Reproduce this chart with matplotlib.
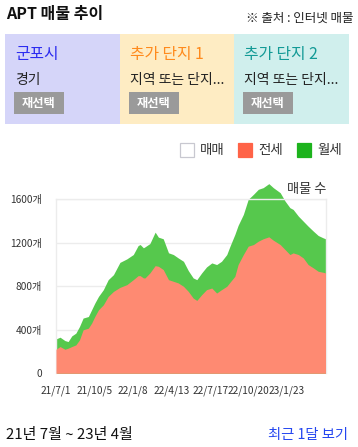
import matplotlib
matplotlib.use("Agg")
import matplotlib.pyplot as plt
from matplotlib.patches import Rectangle
import numpy as np
import pandas as pd

plt.rcParams['font.family'] = ['Noto Sans CJK KR', 'DejaVu Sans']

# ---- data ----
dates = ["2021-07-01", "2021-07-11", "2021-07-23", "2021-07-31", "2021-08-09", "2021-08-19",
         "2021-08-28", "2021-09-06", "2021-09-19", "2021-09-27", "2021-10-05", "2021-10-14",
         "2021-10-26", "2021-11-07", "2021-11-20", "2021-12-06", "2021-12-23", "2022-01-08",
         "2022-01-20", "2022-01-25", "2022-02-02", "2022-02-06", "2022-02-18", "2022-03-03",
         "2022-03-11", "2022-03-23", "2022-04-05", "2022-04-17", "2022-04-29", "2022-05-12",
         "2022-05-24", "2022-06-05", "2022-06-14", "2022-06-26", "2022-07-08", "2022-07-21",
         "2022-08-02", "2022-08-14", "2022-08-27", "2022-09-04", "2022-09-16", "2022-09-24",
         "2022-10-07", "2022-10-19", "2022-11-01", "2022-11-13", "2022-11-25", "2022-12-09",
         "2022-12-20", "2023-01-06", "2023-01-18", "2023-01-30", "2023-02-07", "2023-02-20",
         "2023-03-04", "2023-03-16", "2023-03-29", "2023-04-10", "2023-04-22", "2023-04-28"]
jeonse = [221, 246, 221, 231, 246, 261, 307, 400, 415, 461, 523, 584, 630, 707, 753, 790,
          815, 861, 898, 898, 877, 877, 923, 990, 984, 954, 861, 846, 831, 800, 753, 692,
          670, 723, 769, 784, 738, 769, 800, 837, 892, 1000, 1092, 1169, 1184, 1215, 1237,
          1255, 1224, 1184, 1138, 1092, 1107, 1092, 1061, 1000, 969, 938, 929, 923]
total = [316, 332, 301, 292, 344, 369, 430, 508, 522, 584, 646, 707, 769, 861, 907, 1020,
         1052, 1092, 1175, 1184, 1154, 1163, 1193, 1298, 1252, 1237, 1108, 1092, 1061, 1030,
         944, 877, 861, 923, 978, 1015, 1000, 1030, 1092, 1169, 1277, 1360, 1461, 1600, 1646,
         1692, 1707, 1744, 1707, 1661, 1584, 1523, 1507, 1445, 1399, 1353, 1307, 1267, 1246, 1237]
wolse = [t - j for t, j in zip(total, jeonse)]
yticks = [0, 400, 800, 1200, 1600]
ytick_labels = ["0", "400개", "800개", "1200개", "1600개"]
xtick_dates = ["2021-07-01", "2021-10-05", "2022-01-08", "2022-04-13", "2022-07-17",
               "2022-10-20", "2023-01-23"]
xtick_labels = ["21/7/1", "21/10/5", "22/1/8", "22/4/13", "22/7/17", "22/10/20", "23/1/23"]
legend_labels = ["매매", "전세", "월세"]
panel_titles = ["군포시", "추가 단지 1", "추가 단지 2"]
panel_subs = ["경기", "지역 또는 단지...", "지역 또는 단지..."]

W, H = 358, 447
fig = plt.figure(figsize=(W / 100, H / 100), dpi=100)
fig.patch.set_facecolor("white")

def fx(x):
    return x / W

def fy(y):
    return 1 - y / H

def rect(x0, y0, x1, y1, fc, ec="none", lw=0):
    fig.add_artist(Rectangle((fx(x0), fy(y1)), fx(x1) - fx(x0), fy(y0) - fy(y1),
                             transform=fig.transFigure, facecolor=fc, edgecolor=ec, linewidth=lw))

# ---- header ----
fig.text(fx(6), fy(14), "APT 매물 추이", fontsize=11.5, fontweight="bold", color="#111111",
         va="center", ha="left")
fig.text(fx(354), fy(18), "※ 출처 : 인터넷 매물", fontsize=9.0, color="#222222",
         va="center", ha="right")

panel_x = [(5, 120), (120, 234), (234, 349)]
panel_bg = ["#d5d5f9", "#feecc3", "#d0efed"]
panel_tc = ["#2c2cf0", "#ff8a1c", "#139a96"]
for (x0, x1), bg, tc, t, s in zip(panel_x, panel_bg, panel_tc, panel_titles, panel_subs):
    rect(x0, 34, x1, 124, bg)
    fig.text(fx(x0 + 10), fy(55), t, fontsize=11.4, color=tc, va="center", ha="left")
    fig.text(fx(x0 + 10), fy(80), s, fontsize=10.0, color="#222222", va="center", ha="left")
    rect(x0 + 9, 92, x0 + 59, 114, "#9a9a9a")
    fig.text(fx(x0 + 34), fy(103.5), "재선택", fontsize=8.8, color="white", fontweight="bold",
             va="center", ha="center")

# ---- legend ----
leg_x = [180, 238, 297]
leg_fc = ["white", "#ff6347", "#1db31d"]
leg_ec = ["#c8c8d0", "#ff6347", "#1db31d"]
for lx, fc, ec, lab in zip(leg_x, leg_fc, leg_ec, legend_labels):
    rect(lx, 143, lx + 14, 157, fc, ec, 0.9)
    fig.text(fx(lx + 20), fy(150), lab, fontsize=9.7, color="#333333", va="center", ha="left")

# ---- chart ----
ax = fig.add_axes([fx(56), fy(373.3), fx(325.5) - fx(56), fy(199.3) - fy(373.3)])
d = pd.to_datetime(dates)
j = np.array(jeonse)
w = np.array(wolse)
ax.fill_between(d, 0, j + w, color="#56c84d", linewidth=0, clip_on=False, zorder=2)
ax.fill_between(d, 0, j, color="#fe8a72", linewidth=0, clip_on=False, zorder=3)
ax.set_xlim(pd.Timestamp("2021-07-01"), pd.Timestamp("2023-04-28"))
ax.set_ylim(0, 1600)
ax.set_yticks(yticks)
ax.set_yticklabels(ytick_labels)
ax.set_xticks(pd.to_datetime(xtick_dates))
ax.set_xticklabels(xtick_labels)
ax.tick_params(axis="both", length=0, labelsize=7.3, colors="#333333")
ax.tick_params(axis="y", pad=10)
ax.tick_params(axis="x", pad=9)
ax.grid(axis="y", color="#ececec", linewidth=1, zorder=0)
ax.set_axisbelow(True)
for side in ["left", "right", "top"]:
    ax.spines[side].set_color("#ececec")
    ax.spines[side].set_linewidth(1)
ax.spines["bottom"].set_visible(False)
fig.text(fx(326), fy(190), "매물 수", fontsize=9.5, color="#333333", va="center", ha="right")

# ---- footer ----
fig.text(fx(6), fy(435), "21년 7월 ~ 23년 4월", fontsize=10.8, color="#111111",
         va="center", ha="left")
fig.text(fx(348), fy(435), "최근 1달 보기", fontsize=10.3, color="#2446f0",
         va="center", ha="right")

fig.savefig("out.png", dpi=100, facecolor="white")
